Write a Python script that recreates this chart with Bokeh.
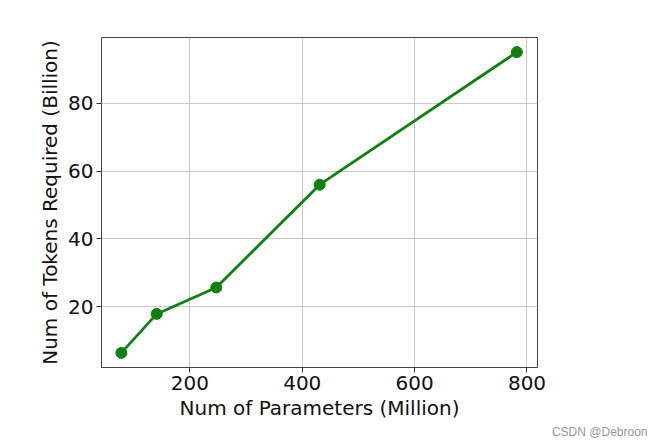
from bokeh.plotting import figure
from bokeh.models import FixedTicker, Range1d, Title
from bokeh.embed import file_html
from bokeh.resources import INLINE

params_million = [78, 141, 247, 431, 782]
tokens_billion = [6.4, 17.9, 25.7, 56.0, 95.1]
x_ticks = [200, 400, 600, 800]
y_ticks = [20, 40, 60, 80]

FONT = "DejaVu Sans"

p = figure(frame_width=436, frame_height=330, output_backend="svg", toolbar_location=None,
           x_range=Range1d(42.7, 818.7), y_range=Range1d(2.1, 99.4),
           min_border_left=101, min_border_right=112, min_border_top=37, min_border_bottom=70,
           background_fill_color="white", border_fill_color="white")

p.line(params_million, tokens_billion, line_color="#118011", line_width=2.8)
p.scatter(params_million, tokens_billion, size=11, fill_color="#118011", line_color="#118011")

p.xaxis.ticker = FixedTicker(ticks=x_ticks)
p.yaxis.ticker = FixedTicker(ticks=y_ticks)
p.xaxis.axis_label = "Num of Parameters (Million)"
p.yaxis.axis_label = "Num of Tokens Required (Billion)"

for ax in (p.xaxis, p.yaxis):
    ax.axis_label_text_font = FONT
    ax.axis_label_text_font_size = "20px"
    ax.axis_label_text_font_style = "normal"
    ax.axis_label_text_color = "#111111"
    ax.major_label_text_font = FONT
    ax.major_label_text_font_size = "20px"
    ax.major_label_text_color = "#111111"
    ax.major_tick_out = 5
    ax.major_tick_in = 0
    ax.minor_tick_line_color = None
    ax.major_tick_line_color = "#333333"
    ax.axis_line_color = "#444444"
    ax.major_label_standoff = 3
    ax.axis_label_standoff = 3

p.xgrid.grid_line_color = "#c8c8c8"
p.ygrid.grid_line_color = "#c8c8c8"
p.xgrid.grid_line_width = 1
p.ygrid.grid_line_width = 1
p.outline_line_color = "#444444"
p.outline_line_width = 1

wm = Title(text="CSDN @Debroon", align="right", offset=-110, standoff=0,
           text_font="Liberation Sans", text_font_size="12px", text_color="#999999",
           text_font_style="normal")
p.add_layout(wm, "below")

open("out.html", "w").write(file_html(p, INLINE))
